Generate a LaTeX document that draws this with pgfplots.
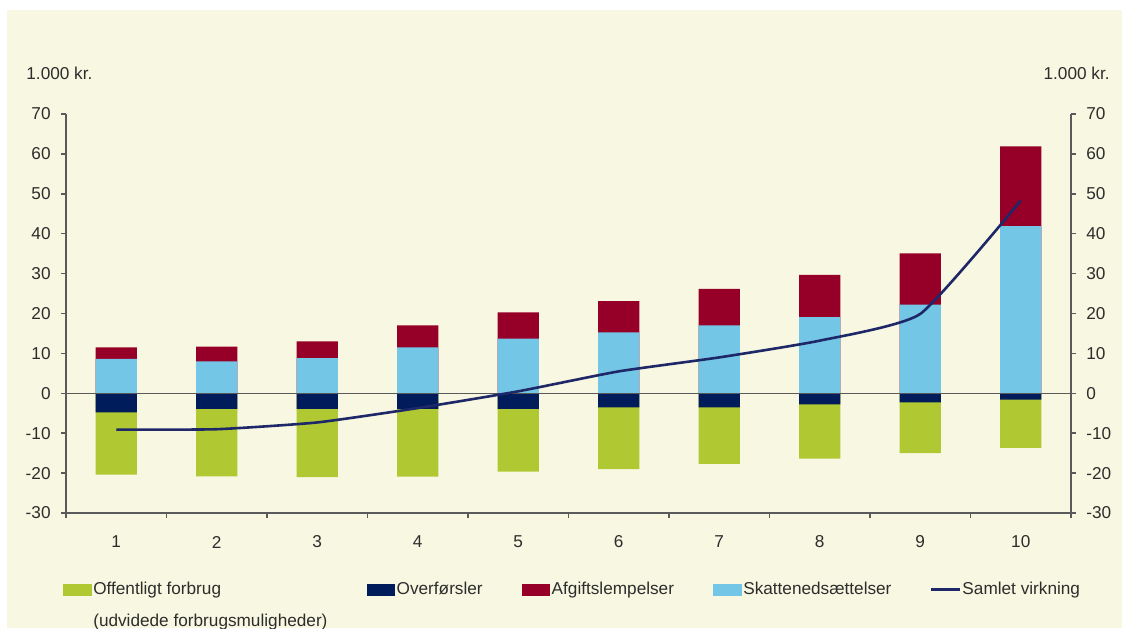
\documentclass[border=0pt]{standalone}
\usepackage{pgfplots}
\pgfplotsset{compat=1.18}
\usepackage{pgfplotstable}
\usepackage{fontspec}
\setmainfont{Liberation Sans}
\definecolor{cgreen}{RGB}{176,200,50}
\definecolor{cnavy}{RGB}{0,28,90}
\definecolor{cred}{RGB}{150,0,40}
\definecolor{cblue}{RGB}{116,198,230}
\definecolor{cline}{RGB}{30,40,105}
\definecolor{cream}{RGB}{248,247,225}
\definecolor{axgray}{RGB}{90,90,90}
\definecolor{ctext}{RGB}{45,45,45}

\pgfplotstableread{
cat off over afg skat total
1 -15.6 -4.8 2.9 8.6 -9.1
2 -16.9 -3.9 3.7 8.0 -9.0
3 -17.1 -3.9 4.2 8.8 -7.3
4 -17.0 -3.9 5.5 11.5 -3.7
5 -15.7 -3.9 6.6 13.7 0.5
6 -15.5 -3.5 7.8 15.3 5.5
7 -14.2 -3.5 9.2 17.0 9.0
8 -13.6 -2.8 10.6 19.1 13.2
9 -12.7 -2.3 12.9 22.2 19.9
10 -12.1 -1.6 20.0 41.9 48.3
}\data

\newcommand{\fsz}{\fontsize{8.6pt}{10pt}\selectfont}

\pgfplotsset{
  mybar/.style={ybar, bar width=20.6pt, bar shift=0pt, draw=none,
    legend image code/.code={\fill[##1,draw=none] (0pt,-3pt) rectangle (14.2pt,3pt); \path (15pt,0pt);}},
  myline/.style={cline, line width=1.3pt, smooth, tension=0.3, no marks,
    legend image code/.code={\draw[##1] (0pt,0pt) -- (14.2pt,0pt); \path (15pt,0pt);}},
  common/.style={
    at={(33pt,57.5pt)}, anchor=south west, scale only axis,
    width=502.5pt, height=199.5pt,
    xmin=0.5, xmax=10.5, ymin=-30, ymax=70,
    ytick={-30,-20,...,70},
    yticklabels={-30,-20,-10,0,10,20,30,40,50,60,70},
    tick align=outside,
    major tick length=2.5pt, minor tick length=2.5pt,
    tick style={color=axgray, line width=0.75pt},
    axis line style={color=axgray, line width=0.75pt},
    every tick label/.append style={font=\fsz, text=ctext},
  },
}

\begin{document}
\begin{tikzpicture}
\path[use as bounding box] (0,0) rectangle (561pt,314pt);
\fill[white] (0,0) rectangle (561pt,314pt);
\fill[cream] (3.5pt,0) rectangle (561pt,309pt);

\begin{axis}[common,
  axis x line*=bottom, axis y line*=left,
  xtick={0.5,1.5,...,10.5},
  xticklabels={1,2,3,4,5,6,7,8,9,10,{}},
  x tick label as interval,
  xticklabel style={anchor=center, inner sep=0pt, yshift=-12pt},
  yticklabel style={anchor=east, inner sep=0pt, xshift=-5pt},
  clip=false,
  legend columns=5,
  legend cell align=left,
  legend style={at={(axis description cs:-0.0027,-0.173)}, anchor=north west,
    draw=none, fill=none, inner sep=0pt, outer sep=0pt,
    column sep=0pt, row sep=0pt,
    nodes={inner sep=0pt, text=ctext}, font=\fsz},
]
\addplot[mybar, fill=cgreen] table[x=cat, y expr=\thisrow{off}+\thisrow{over}] {\data};
\addlegendentry{\makebox[136.7pt][l]{\rlap{\raisebox{-16pt}[0pt][0pt]{(udvidede forbrugsmuligheder)}}Offentligt forbrug}}
\addplot[mybar, fill=cnavy] table[x=cat, y=over] {\data};
\addlegendentry{\makebox[62.5pt][l]{Overførsler}}
\addplot[mybar, fill=cred] table[x=cat, y expr=\thisrow{skat}+\thisrow{afg}] {\data};
\addlegendentry{\makebox[80.8pt][l]{Afgiftslempelser}}
\addplot[mybar, fill=cblue] table[x=cat, y=skat] {\data};
\addlegendentry{\makebox[93.3pt][l]{Skattenedsættelser}}
\draw[axgray, line width=0.75pt] (axis cs:0.5,0) -- (axis cs:10.5,0);
\addplot[myline] table[x=cat, y=total] {\data};
\addlegendentry{Samlet virkning}
\node[anchor=west, inner sep=0pt, font=\fsz, text=ctext] at (axis description cs:-0.0398,1.1028) {1.000 kr.};
\node[anchor=east, inner sep=0pt, font=\fsz, text=ctext] at (axis description cs:1.0388,1.1028) {1.000 kr.};
\end{axis}

\begin{axis}[common,
  axis x line=none, axis y line*=right,
  yticklabel style={anchor=west, inner sep=0pt, xshift=5pt},
]
\end{axis}
\end{tikzpicture}
\end{document}
